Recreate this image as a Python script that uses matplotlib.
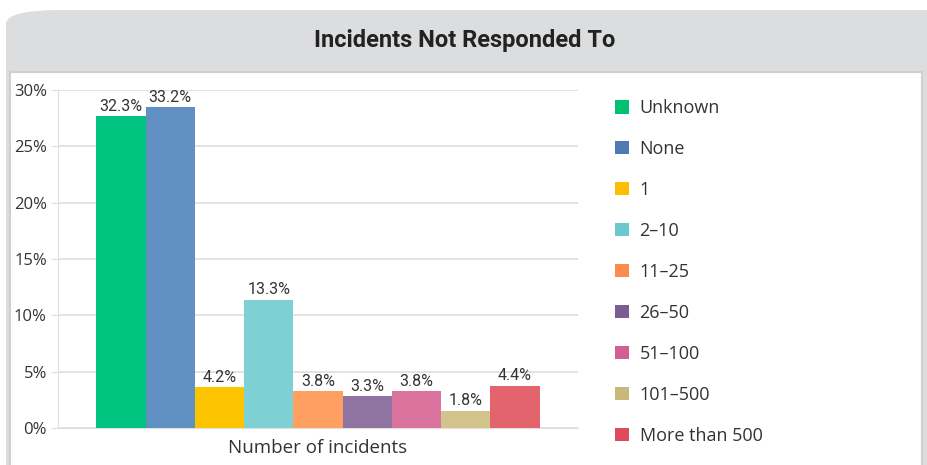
import matplotlib.pyplot as plt
from matplotlib import font_manager
from matplotlib.patches import Patch, FancyBboxPatch, Rectangle

# data
categories = ["Unknown", "None", "1", "2–10", "11–25", "26–50", "51–100", "101–500", "More than 500"]
values = [32.3, 33.2, 4.2, 13.3, 3.8, 3.3, 3.8, 1.8, 4.4]
tick_labels = ["0%", "5%", "10%", "15%", "20%", "25%", "30%"]
bar_colors = ["#00c47f", "#6090c2", "#fcc500", "#7dd0d3", "#ff9f62",
              "#8f74a1", "#db739f", "#d2c48c", "#e4646e"]
legend_colors = ["#00c170", "#4e7bb6", "#fbbf00", "#6ac9cc", "#ff8a4e",
                 "#7c5d93", "#d45d91", "#c8b87a", "#dd4c5c"]

plt.rcParams['font.family'] = ['Open Sans', 'DejaVu Sans']
names = {f.name for f in font_manager.fontManager.ttflist}
narrow = 'Liberation Sans Narrow' if 'Liberation Sans Narrow' in names else 'Roboto'

fig = plt.figure(figsize=(9.28, 4.65), dpi=100)
W, H = 928, 465

# header panel + frame
fig.patches.append(FancyBboxPatch((6 / W, -0.5), 1.5, 0.5 + 1 - 10 / H,
                                  boxstyle="round,pad=0,rounding_size=0.06",
                                  transform=fig.transFigure, facecolor="#dcdddf",
                                  edgecolor="none", zorder=-5, mutation_aspect=0.5))
fig.patches.append(Rectangle((10 / W, -0.01), 912 / W, 1 - 72 / H + 0.01, transform=fig.transFigure,
                             facecolor="white", edgecolor="#cfcfcf", lw=1.5, zorder=-4))
fig.text(465 / W, 1 - 40 / H, "Incidents Not Responded To", ha="center", va="center",
         fontsize=17, fontweight="bold", color="#222222", family=[narrow, 'DejaVu Sans'])

ax = fig.add_axes([58 / W, 1 - 428 / H, 520 / W, 338 / H])
ax.set_zorder(2)
ax.patch.set_alpha(0)
x = list(range(len(values)))
ax.bar(x, values, width=1.0, color=bar_colors, zorder=3)
ymax = 35.0
ax.set_ylim(0, ymax)
ax.set_xlim(-0.5 - 0.78, len(values) - 0.5 + 0.78)
ax.set_yticks([ymax * i / 6 for i in range(7)])
ax.set_yticklabels(tick_labels, fontsize=12, color="#333333")
ax.set_xticks([])
ax.grid(axis="y", color="#dedede", lw=1.2, zorder=0)
for s in ["top", "right"]:
    ax.spines[s].set_visible(False)
ax.spines["left"].set_color("#dedede")
ax.spines["bottom"].set_color("#dedede")
ax.tick_params(axis="y", length=5, color="#dedede", pad=3)
ax.set_xlabel("Number of incidents", fontsize=13.5, color="#333333", labelpad=8)

for xi, v in zip(x, values):
    ax.text(xi, v + 0.25, f"{v}%", ha="center", va="bottom", fontsize=11.5,
            color="#333333", family=[narrow, 'DejaVu Sans'])

handles = [Patch(facecolor=c, edgecolor="none") for c in legend_colors]
leg = fig.legend(handles, categories, loc="upper left", bbox_to_anchor=(599 / W, 1 - 83 / H),
                 frameon=False, fontsize=13, handlelength=0.75, handleheight=0.75,
                 handletextpad=0.6, labelspacing=1.27, labelcolor="#333333")
leg.set_zorder(3)

fig.savefig("out.png", dpi=100)
